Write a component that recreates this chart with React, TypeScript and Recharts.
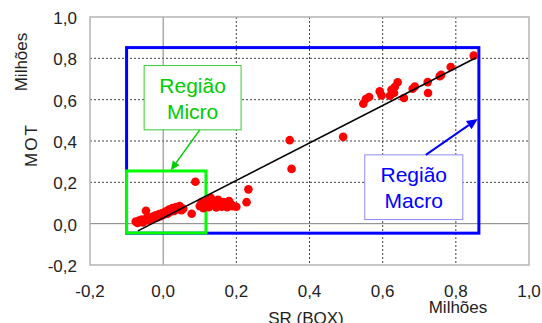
import {
    ScatterChart,
    Scatter,
    XAxis,
    YAxis,
    ReferenceLine,
    ReferenceArea
} from 'recharts';

// tick values (milhões)
const xTicks = [-0.2, 0, 0.2, 0.4, 0.6, 0.8, 1.0];
const yTicks = [-0.2, 0, 0.2, 0.4, 0.6, 0.8, 1.0];
const gridValues = [0.2, 0.4, 0.6, 0.8];
const lo = -0.2;
const hi = 1.0;

// SR (BOX) x MOT
const srBox = [
    -0.075, -0.07, -0.066, -0.062, -0.058, -0.055, -0.05, -0.047, -0.045, -0.04,
    -0.036, -0.032, -0.028, -0.024, -0.02, -0.016, -0.012, -0.008, -0.004, 0.0,
    0.004, 0.008, 0.012, 0.016, 0.02, 0.025, 0.03, 0.035, 0.04, 0.045,
    0.05, 0.055, 0.078, 0.088,
    0.1, 0.105, 0.11, 0.115, 0.12, 0.125, 0.13, 0.135, 0.14, 0.145,
    0.15, 0.155, 0.16, 0.165, 0.17, 0.175, 0.18, 0.185, 0.19, 0.2,
    0.228, 0.233,
    0.346, 0.351, 0.492,
    0.547, 0.554, 0.563, 0.592, 0.597, 0.62, 0.624, 0.631, 0.633, 0.641,
    0.658, 0.682, 0.688, 0.723, 0.724, 0.756, 0.76, 0.786, 0.849
];
const mot = [
    0.01, 0.004, 0.015, 0.008, 0.02, 0.006, 0.018, 0.062, 0.025, 0.015,
    0.03, 0.022, 0.035, 0.026, 0.04, 0.03, 0.045, 0.036, 0.05, 0.042,
    0.055, 0.06, 0.048, 0.068, 0.058, 0.075, 0.062, 0.08, 0.07, 0.085,
    0.065, 0.072, 0.048, 0.203,
    0.085, 0.105, 0.075, 0.095, 0.11, 0.08, 0.125, 0.09, 0.1, 0.078,
    0.115, 0.092, 0.082, 0.105, 0.09, 0.08, 0.11, 0.095, 0.085, 0.082,
    0.104, 0.166,
    0.404, 0.265, 0.42,
    0.58, 0.603, 0.613, 0.64, 0.62, 0.619, 0.648, 0.632, 0.661, 0.684,
    0.608, 0.653, 0.664, 0.685, 0.632, 0.713, 0.72, 0.758, 0.813
];
const points = srBox.map((x, i) => ({ x, y: mot[i] }));

// linear trend
const trend = [{ x: -0.069, y: -0.035 }, { x: 0.855, y: 0.803 }];

// regions and their captions
const macroRegion = { x1: -0.1, x2: 0.863, y1: -0.046, y2: 0.852 };
const microRegion = { x1: -0.1, x2: 0.117, y1: -0.045, y2: 0.255 };
const microCaption = { x1: -0.052, x2: 0.213, y1: 0.454, y2: 0.765 };
const macroCaption = { x1: 0.551, x2: 0.819, y1: 0.02, y2: 0.333 };
const microArrow = [{ x: 0.1, y: 0.454 }, { x: 0.021, y: 0.259 }];
const macroArrow = [{ x: 0.718, y: 0.333 }, { x: 0.86, y: 0.507 }];

const FONT = '"Liberation Sans", Arial, sans-serif';
const fmt = (v: number) => v.toFixed(1).replace('.', ',');

function Arrow(props: any, color: string, width: number, head: number) {
    const { x1, y1, x2, y2 } = props;
    const a = Math.atan2(y2 - y1, x2 - x1);
    const bx = x2 - head * Math.cos(a);
    const by = y2 - head * Math.sin(a);
    const w = head * 0.45;
    const p1 = `${bx + w * Math.sin(a)},${by - w * Math.cos(a)}`;
    const p2 = `${bx - w * Math.sin(a)},${by + w * Math.cos(a)}`;
    return (
        <g>
            <line x1={x1} y1={y1} x2={bx} y2={by} stroke={color} strokeWidth={width} />
            <polygon points={`${x2},${y2} ${p1} ${p2}`} fill={color} />
        </g>
    );
}

// grid rules: an area from the axis start up to the value, only its far edge drawn
// (a hair of slope keeps the line's bounding box from being flat)
function HRule(props: any, color: string, dash?: string) {
    const { x, y, width } = props;
    return <line x1={x} y1={y} x2={x + width} y2={y + 0.02} stroke={color} strokeWidth={1} strokeDasharray={dash} />;
}
function VRule(props: any, color: string, dash?: string) {
    const { x, y, width, height } = props;
    return <line x1={x + width} y1={y} x2={x + width + 0.02} y2={y + height} stroke={color} strokeWidth={1} strokeDasharray={dash} />;
}
function Frame(props: any, color: string, width: number) {
    const { x, y, height } = props;
    return <rect x={x} y={y} width={props.width} height={height} fill="none" stroke={color} strokeWidth={width} />;
}

function Caption(props: any, lines: string[], color: string, border: string) {
    const { x, y, width, height } = props;
    const cx = x + width / 2;
    return (
        <g>
            <rect x={x} y={y} width={width} height={height} fill="#fff" stroke={border} strokeWidth={1} />
            <text x={cx} y={y + 27} textAnchor="middle" fontSize={21} fill={color} fontFamily={FONT}>{lines[0]}</text>
            <text x={cx} y={y + 53} textAnchor="middle" fontSize={21} fill={color} fontFamily={FONT}>{lines[1]}</text>
        </g>
    );
}

const YTick = (props: any) => (
    <text x={props.x} y={props.y + 7} textAnchor="end" fontSize={17} fill="#222" fontFamily={FONT}>
        {fmt(props.payload.value)}
    </text>
);

const XTick = (props: any) => (
    <text x={props.x} y={props.y + 10} textAnchor="middle" fontSize={17} fill="#222" fontFamily={FONT}>
        {fmt(props.payload.value)}
    </text>
);

const Dot = (props: any) => <circle cx={props.cx} cy={props.cy} r={4.3} fill="#ff0000" />;

export default function App() {
    return (
        <div style={{ position: 'absolute', left: 0, top: 0, width: 542, height: 323, background: '#fff' }}>
            <ScatterChart width={542} height={323} margin={{ top: 17, right: 13, bottom: 0, left: 0 }}>
                <XAxis
                    type="number"
                    dataKey="x"
                    domain={[lo, hi]}
                    ticks={xTicks}
                    allowDataOverflow
                    axisLine={false}
                    tickLine={false}
                    tickSize={0}
                    tickMargin={22}
                    tick={XTick}
                    height={58}
                    label={{
                        content: () => (
                            <g fontFamily={FONT} fontSize={17} fill="#222">
                                <text x={306} y={324} textAnchor="middle">SR (BOX)</text>
                                <text x={458} y={313} textAnchor="middle">Milhões</text>
                            </g>
                        )
                    }}
                />
                <YAxis
                    type="number"
                    dataKey="y"
                    domain={[lo, hi]}
                    ticks={yTicks}
                    allowDataOverflow
                    axisLine={false}
                    tickLine={false}
                    tickSize={0}
                    tickMargin={13}
                    tick={YTick}
                    width={90}
                    label={{
                        content: () => (
                            <g fontFamily={FONT} fontSize={17} fill="#222">
                                <text x={27} y={62} textAnchor="middle" transform="rotate(-90 27 62)">Milhões</text>
                                <text x={37} y={145} textAnchor="middle" letterSpacing={2} transform="rotate(-90 37 145)">MOT</text>
                            </g>
                        )
                    }}
                />
                {gridValues.map((v) => (
                    <ReferenceArea key={'h' + v} x1={lo} x2={hi} y1={lo} y2={v} zIndex={420}
                        shape={(p: any) => HRule(p, '#444', '2 2')} />
                ))}
                {gridValues.map((v) => (
                    <ReferenceArea key={'v' + v} x1={lo} x2={v} y1={lo} y2={hi} zIndex={420}
                        shape={(p: any) => VRule(p, '#444', '2 2')} />
                ))}
                <ReferenceArea x1={lo} x2={hi} y1={lo} y2={0} zIndex={430} shape={(p: any) => HRule(p, '#808080')} />
                <ReferenceArea x1={lo} x2={0} y1={lo} y2={hi} zIndex={430} shape={(p: any) => VRule(p, '#808080')} />
                <ReferenceArea x1={lo} x2={hi} y1={lo} y2={hi} zIndex={440} shape={(p: any) => Frame(p, '#b4b4b4', 1.5)} />
                <ReferenceArea {...macroRegion} zIndex={450} shape={(p: any) => Frame(p, '#0000ff', 3)} />
                <ReferenceArea {...microRegion} zIndex={460} shape={(p: any) => Frame(p, '#00ff00', 3)} />
                <Scatter data={points} fill="#ff0000" shape={Dot} isAnimationActive={false} zIndex={600} />
                <ReferenceLine segment={trend} stroke="#000" strokeWidth={1.5} zIndex={700} />
                <ReferenceArea
                    {...microCaption}
                    zIndex={800}
                    shape={(p: any) => Caption(p, ['Região', 'Micro'], '#00cc00', '#33cc33')}
                />
                <ReferenceArea
                    {...macroCaption}
                    zIndex={800}
                    shape={(p: any) => Caption(p, ['Região', 'Macro'], '#0000ff', '#8c8cff')}
                />
                <ReferenceLine segment={microArrow} zIndex={900} shape={(p: any) => Arrow(p, '#00cc00', 1.5, 9)} />
                <ReferenceLine segment={macroArrow} zIndex={900} shape={(p: any) => Arrow(p, '#0000ff', 2, 11)} />
            </ScatterChart>
        </div>
    );
}
